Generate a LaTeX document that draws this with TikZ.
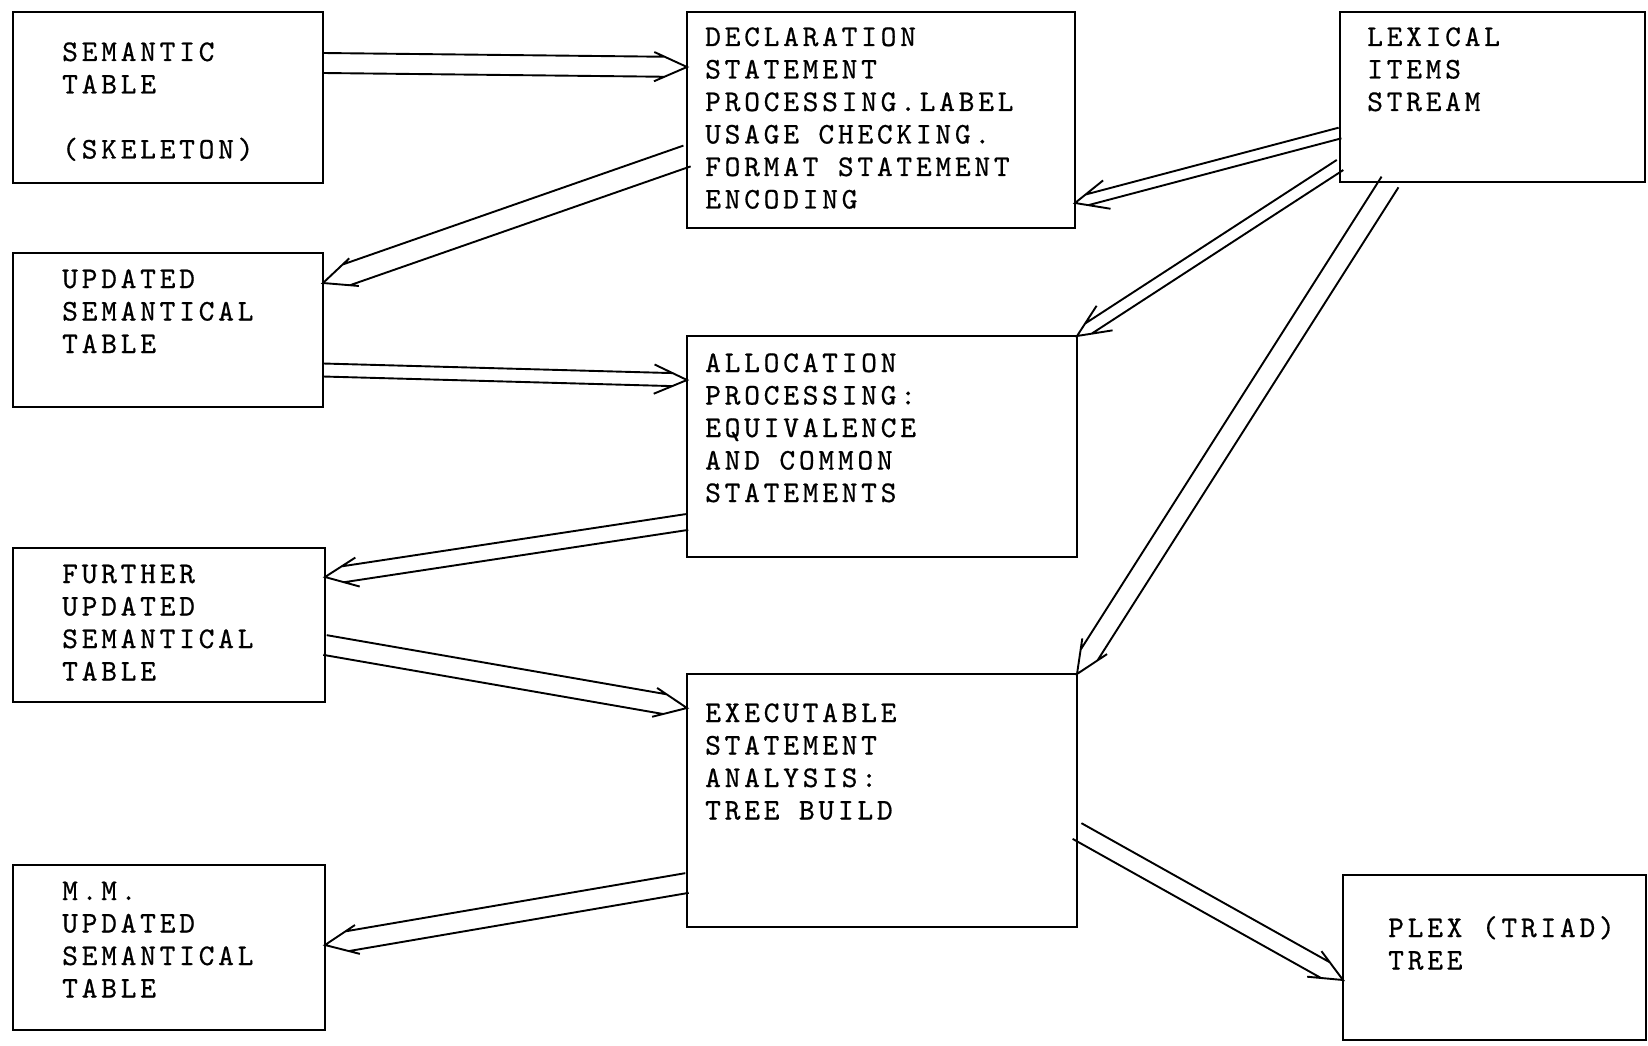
\documentclass[tikz,border=0pt]{standalone}
\usepackage{fontspec}
\usetikzlibrary{calc,fit}
\newfontfamily\tw{lmmono10-regular}[Extension=.otf, LetterSpace=12.5, FakeBold=0.6]
\tikzset{
  box/.style={draw, rectangle, line width=2.4pt, inner sep=0pt, outer sep=0pt},
  txt/.style={anchor=base west, inner sep=0pt, font=\tw\fontsize{30}{32.5}\selectfont},
  conn/.style={line width=1.9pt, line join=miter},
  % hand-drawn style hollow arrow: two parallel shafts ending on an open V head
  dbl/.style n args={2}{to path={
    ($(\tikztostart)!#1!90:(\tikztotarget)$) -- ($(\tikztotarget)!#2!-24:(\tikztostart)$)
    ($(\tikztostart)!#1!-90:(\tikztotarget)$) -- ($(\tikztotarget)!#2!24:(\tikztostart)$)
    ($(\tikztotarget)!36pt!-24:(\tikztostart)$) -- (\tikztotarget) -- ($(\tikztotarget)!36pt!24:(\tikztostart)$)
  }}
}
\newcommand{\lns}[1]{\parbox[t]{400pt}{#1}}
\begin{document}
\begin{tikzpicture}[x=1pt, y=-1pt]
  \fill[white] (0,0) rectangle (1648,1046);
  \useasboundingbox (0,0) rectangle (1648,1046);

  % boxes
  \node[box, fit={(13,12) (323,183)}] (sem) {};
  \node[box, fit={(13,253) (323,407)}] (upd) {};
  \node[box, fit={(13,548) (325,702)}] (fur) {};
  \node[box, fit={(13,865) (325,1030)}] (mm) {};
  \node[box, fit={(687,12) (1075,228)}] (decl) {};
  \node[box, fit={(687,336) (1077,557)}] (alloc) {};
  \node[box, fit={(687,674) (1077,927)}] (exec) {};
  \node[box, fit={(1340,12) (1645,182)}] (lex) {};
  \node[box, fit={(1343,875) (1646,1040)}] (plex) {};

  % box texts
  \node[txt] (semT) at (62,61) {\lns{SEMANTIC\\TABLE\\\mbox{}\\(SKELETON)}};
  \node[txt] (updT) at (62,288) {\lns{UPDATED\\SEMANTICAL\\TABLE}};
  \node[txt] (furT) at (62,583) {\lns{FURTHER\\UPDATED\\SEMANTICAL\\TABLE}};
  \node[txt] (mmT) at (62,900) {\lns{M.M.\\UPDATED\\SEMANTICAL\\TABLE}};
  \node[txt] (declT) at (705,46) {\lns{DECLARATION\\STATEMENT\\PROCESSING.LABEL\\USAGE CHECKING.\\FORMAT STATEMENT\\ENCODING}};
  \node[txt] (allocT) at (705,372) {\lns{ALLOCATION\\PROCESSING:\\EQUIVALENCE\\AND COMMON\\STATEMENTS}};
  \node[txt] (execT) at (705,722) {\lns{EXECUTABLE\\STATEMENT\\ANALYSIS:\\TREE BUILD}};
  \node[txt] (lexT) at (1367,46) {\lns{LEXICAL\\ITEMS\\STREAM}};
  \node[txt] (plexT) at (1388,937) {\lns{PLEX (TRIAD)\\TREE}};

  % connector end points on the box borders
  \coordinate (a1s) at (sem.east |- 0,63);
  \coordinate (a1t) at (decl.west |- 0,67);
  \coordinate (a2s) at (decl.west |- 0,156);
  \coordinate (a2t) at (upd.east |- 0,283);
  \coordinate (a3s) at (upd.east |- 0,370);
  \coordinate (a3t) at (alloc.west |- 0,380);
  \coordinate (a4s) at (alloc.west |- 0,522);
  \coordinate (a4t) at (fur.east |- 0,577);
  \coordinate (a5s) at (fur.east |- 0,645);
  \coordinate (a5t) at (exec.west |- 0,708);
  \coordinate (a6s) at (exec.west |- 0,883);
  \coordinate (a6t) at (mm.east |- 0,945);
  \coordinate (a7s) at (lex.west |- 0,133);
  \coordinate (a7t) at (decl.east |- 0,203);
  \coordinate (a8s) at (lex.west |- 0,165);
  \coordinate (a9s) at (lex.south -| 1390,0);
  \coordinate (a10s) at (exec.east |- 0,831);
  \coordinate (a10t) at (plex.west |- 0,980);

  % connectors
  \draw[conn] (a1s) to[dbl={10pt}{24.6pt}] (a1t);
  \draw[conn] (a2s) to[dbl={11pt}{27pt}] (a2t);
  \draw[conn] (a3s) to[dbl={6.5pt}{16pt}] (a3t);
  \draw[conn] (a4s) to[dbl={8pt}{19.7pt}] (a4t);
  \draw[conn] (a5s) to[dbl={10pt}{24.6pt}] (a5t);
  \draw[conn] (a6s) to[dbl={10pt}{24.6pt}] (a6t);
  \draw[conn] (a7s) to[dbl={5.5pt}{13.5pt}] (a7t);
  \draw[conn] (a8s) to[dbl={6pt}{14.8pt}] (alloc.north east);
  \draw[conn] (a9s) to[dbl={10pt}{24.6pt}] (exec.north east);
  \draw[conn] (a10s) to[dbl={9pt}{22.1pt}] (a10t);
\end{tikzpicture}
\end{document}
